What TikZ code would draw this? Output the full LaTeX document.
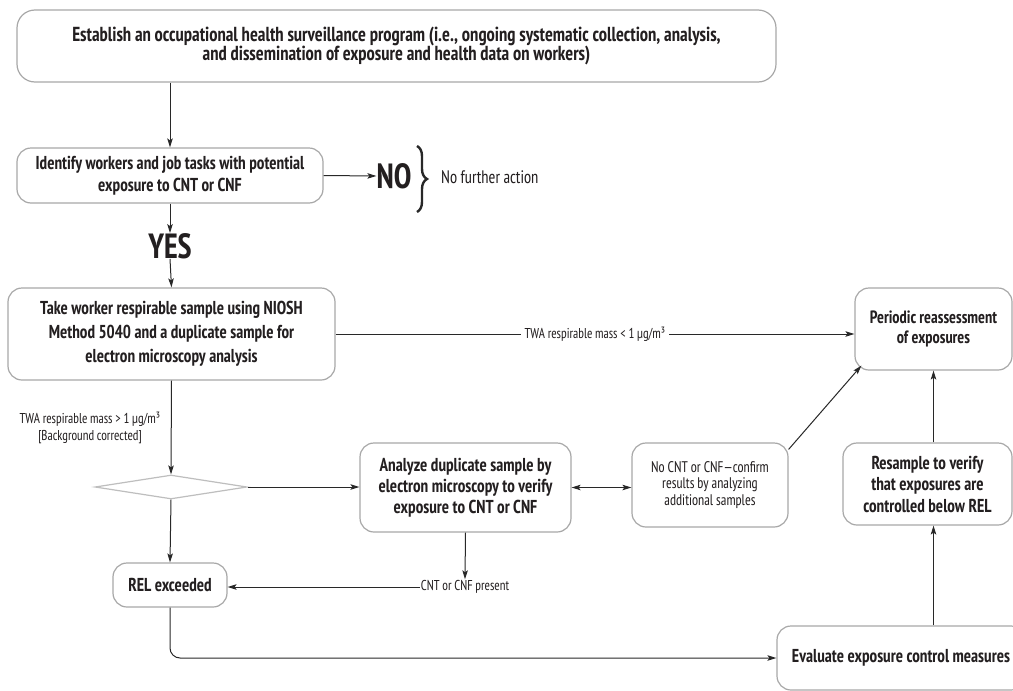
\documentclass[tikz,border=0pt]{standalone}
\usepackage{fontspec}
\IfFontExistsTF{PT Sans Narrow}{\setmainfont{PT Sans Narrow}[FakeStretch=0.91]}{\setmainfont{PT Sans}[FakeStretch=0.75]}
\usetikzlibrary{arrows.meta,shapes.geometric,decorations.pathreplacing,calc}
\definecolor{boxgray}{RGB}{168,168,168}
\definecolor{diagray}{RGB}{190,190,190}
\definecolor{ink}{RGB}{35,31,32}
\definecolor{linec}{RGB}{40,40,40}
\begin{document}
\begin{tikzpicture}[x=1pt,y=-1pt,
  box/.style={draw=boxgray, line width=1.2pt, rounded corners=14pt, align=center, inner sep=0pt, text=ink,
    font=\bfseries\fontsize{18.7}{21}\selectfont},
  smalltxt/.style={text=ink, align=center, inner sep=1pt, font=\fontsize{14.3}{16.5}\selectfont},
  bigtxt/.style={text=ink, inner sep=0pt, font=\bfseries\fontsize{35}{35}\selectfont},
  arr/.style={draw=linec, line width=1pt, -{Stealth[length=9pt,width=5.5pt,inset=2pt]}},
  plain/.style={draw=linec, line width=1pt}]
\useasboundingbox (0,0) rectangle (1013,691);
\clip (0,0) rectangle (1013,691);
\fill[white] (0,0) rectangle (1013,691);

% nodes
\node[box, minimum width=759pt, minimum height=72pt, rounded corners=18pt, font=\bfseries\fontsize{20.3}{19}\selectfont] (top) at (396.5,46)
  {Establish an occupational health surveillance program (i.e., ongoing systematic collection, analysis,\\and dissemination of exposure and health data on workers)};
\node[box, minimum width=306pt, minimum height=55pt, font=\bfseries\fontsize{18.7}{22}\selectfont] (ident) at (170,175.5)
  {Identify workers and job tasks with potential\\exposure to CNT or CNF};
\node[bigtxt] (no) at (394,176) {NO};
\node[smalltxt, anchor=west, font=\fontsize{18.1}{18}\selectfont] (nofurther) at (440,177) {No further action};
\node[bigtxt] (yes) at (170,246) {YES};
\node[box, minimum width=327pt, minimum height=92pt, font=\bfseries\fontsize{18.7}{24}\selectfont] (take) at (171.5,334)
  {Take worker respirable sample using NIOSH\\Method 5040 and a duplicate sample for\\electron microscopy analysis};
\node[box, minimum width=157pt, minimum height=82pt, font=\bfseries\fontsize{17.8}{19.5}\selectfont] (periodic) at (933.5,329)
  {Periodic reassessment\\of exposures};
\node[smalltxt] (twahigh) at (90,428) {TWA respirable mass > 1 µg/m³\\{}{[Background corrected]}};
\node[draw=diagray, line width=1.2pt, shape=diamond, inner sep=0pt, minimum width=152pt, minimum height=24pt] (dia) at (171,487) {};
\node[box, minimum width=211pt, minimum height=89pt] (analyze) at (465.5,487.5)
  {Analyze duplicate sample by\\electron microscopy to verify\\exposure to CNT or CNF};
\node[box, minimum width=156pt, minimum height=84pt, font=\fontsize{15.4}{16.5}\selectfont] (nocnt) at (710,485)
  {No CNT or CNF—confirm\\results by analyzing\\additional samples};
\node[box, minimum width=169pt, minimum height=82pt, font=\bfseries\fontsize{18.7}{21.5}\selectfont] (resample) at (927.5,484)
  {Resample to verify\\that exposures are\\controlled below REL};
\node[box, minimum width=248pt, minimum height=64pt] (evaluate) at (901,658)
  {Evaluate exposure control measures};
\node[box, minimum width=114pt, minimum height=44pt] (rel) at (170,585) {REL exceeded};
\node[smalltxt] (cnt) at (465,587) {CNT or CNF present};

% brace
\draw[linec, line width=2.4pt, decorate, decoration={brace, amplitude=10pt}] (417,146) -- (417,212);

% connectors
\draw[arr] (top.south -| ident.north) -- (ident.north);
\draw[arr] (ident.east) -- (no.west);
\draw[arr] (ident.south) -- (yes.north);
\draw[arr] (yes.south) -- (take.north);
\draw[arr] (take.east) -- node[smalltxt, fill=white, inner xsep=4pt] {TWA respirable mass < 1 µg/m³} (take.east -| periodic.west);
\draw[arr] (take.south) -- (dia.north);
\draw[arr] (dia.east) -- (dia.east -| analyze.west);
\draw[arr, {Stealth[length=9pt,width=5.5pt,inset=2pt]}-{Stealth[length=9pt,width=5.5pt,inset=2pt]}] (analyze.east) -- (analyze.east -| nocnt.west);
\draw[arr] ([yshift=-7pt]nocnt.north east) -- ([xshift=7pt,yshift=5pt]periodic.south west);
\draw[arr] (resample.north -| periodic.south) -- (periodic.south);
\draw[arr] (evaluate.north -| periodic.south) -- (resample.south -| periodic.south);
\draw[arr] (dia.south) -- (rel.north);
\draw[arr] (analyze.south) -- (cnt.north);
\draw[arr] (cnt.west) -- (cnt.west -| rel.east);
\draw[arr, rounded corners=10pt] (rel.south) |- (evaluate.west);
\end{tikzpicture}
\end{document}
